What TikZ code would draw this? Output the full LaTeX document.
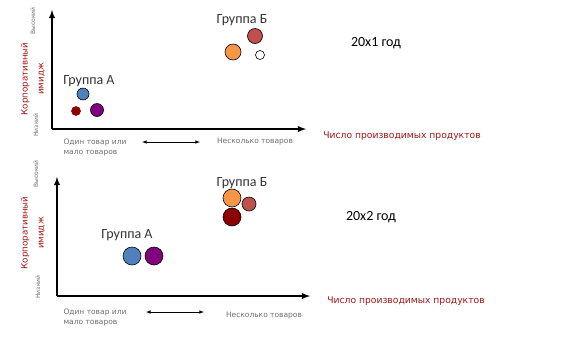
\documentclass[tikz,border=0pt]{standalone}
\usepackage{fontspec}
\setmainfont{Carlito}
\newfontfamily\dvfont{DejaVu Sans}
\definecolor{imgred}{RGB}{160,20,20}
\definecolor{axgray}{RGB}{110,110,110}
\definecolor{bublue}{RGB}{79,129,189}
\definecolor{bupurple}{RGB}{128,0,128}
\definecolor{budark}{RGB}{140,0,0}
\definecolor{buorange}{RGB}{247,150,70}
\definecolor{bubrown}{RGB}{192,80,77}
\tikzset{
  axis/.style={line width=1.8pt,->},
  bubble/.style={circle,draw=black,line width=0.6pt,inner sep=0pt},
  grp/.style={font=\fontsize{14}{16}\selectfont,text=black!80},
  year/.style={font=\fontsize{14}{16}\selectfont},
  level/.style={rotate=90,font=\dvfont\fontsize{6}{7}\selectfont,text=axgray},
  ylab/.style={rotate=90,align=center,font=\dvfont\fontsize{8.7}{16}\selectfont,text=imgred},
  xlab/.style={font=\dvfont\fontsize{9.2}{11}\selectfont,text=imgred},
  small/.style={font=\dvfont\fontsize{7.5}{10}\selectfont,text=axgray,align=left},
}
\begin{document}
\begin{tikzpicture}[x=1pt,y=-1pt,>=latex]
\useasboundingbox (0,0) rectangle (586,360);
% 20x1
\coordinate (o1) at (52,129);
\coordinate (y1) at (52,10);
\coordinate (x1) at (306,129);
\draw[axis] (o1) -- (y1);
\draw[axis] (o1) -- (x1);
\node[level] (hi1) at (33,21) {Высокий};
\node[level] (lo1) at (36,125) {Низкий};
\node[ylab] (img1) at (33,79) {Корпоративный\\имидж};
\node[grp] (ga1) at (89,81) {Группа А};
\node[bubble,fill=bublue,minimum size=12] (a11) at (83,94) {};
\node[bubble,fill=budark,draw=budark,minimum size=9] (a12) at (76,111) {};
\node[bubble,fill=bupurple,minimum size=13] (a13) at (97,110) {};
\node[grp] (gb1) at (242,20) {Группа Б};
\node[bubble,fill=bubrown,minimum size=15] (b11) at (255,36) {};
\node[bubble,fill=buorange,minimum size=16] (b12) at (233,52) {};
\node[bubble,fill=white,minimum size=9] (b13) at (260,55) {};
\node[year] (yr1) at (376,43) {20x1 год};
\node[xlab] (num1) at (402,136) {Число производимых продуктов};
\node[small,anchor=west] (one1) at (60,147) {Один товар или\\мало товаров};
\coordinate (l1) at (142,142);
\coordinate (r1) at (200,142);
\draw[<->,line width=0.6pt] (l1) -- (r1);
\node[small] (many1) at (255,142) {Несколько товаров};
% 20x2
\coordinate (o2) at (57,296);
\coordinate (y2) at (57,177);
\coordinate (x2) at (310,296);
\draw[axis] (o2) -- (y2);
\draw[axis] (o2) -- (x2);
\node[level] (hi2) at (36,174) {Высокий};
\node[level] (lo2) at (38,287) {Низкий};
\node[ylab] (img2) at (33,233) {Корпоративный\\имидж};
\node[grp] (ga2) at (127,235) {Группа А};
\node[bubble,fill=bublue,minimum size=18] (a21) at (132,256) {};
\node[bubble,fill=bupurple,minimum size=18] (a22) at (154,256) {};
\node[grp] (gb2) at (242,183) {Группа Б};
\node[bubble,fill=buorange,minimum size=18] (b21) at (232,198) {};
\node[bubble,fill=bubrown,minimum size=14] (b22) at (249,204) {};
\node[bubble,fill=budark,minimum size=18] (b23) at (232,217) {};
\node[year] (yr2) at (371,217) {20x2 год};
\node[xlab] (num2) at (406,301) {Число производимых продуктов};
\node[small,anchor=west] (one2) at (60,317) {Один товар или\\мало товаров};
\coordinate (l2) at (146,312);
\coordinate (r2) at (204,312);
\draw[<->,line width=0.6pt] (l2) -- (r2);
\node[small] (many2) at (264,316) {Несколько товаров};
\end{tikzpicture}
\end{document}
